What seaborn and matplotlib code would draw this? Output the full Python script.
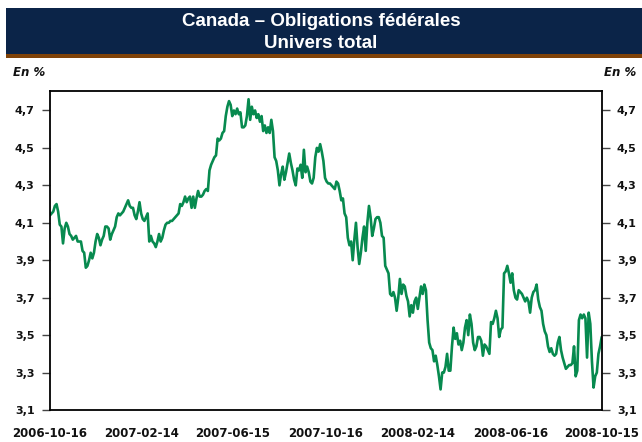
import numpy as np
import pandas as pd
import matplotlib
matplotlib.use("Agg")
import matplotlib.pyplot as plt
import seaborn as sns
from matplotlib.patches import Rectangle

# ---------------- data ----------------
title_lines = ["Canada – Obligations fédérales", "Univers total"]
unit_label = "En %"
start_date = "2006-10-16"
end_date = "2008-10-15"
tick_dates = ["2006-10-16", "2007-02-14", "2007-06-15", "2007-10-16",
              "2008-02-14", "2008-06-16", "2008-10-15"]
y_ticks = [3.1, 3.3, 3.5, 3.7, 3.9, 4.1, 4.3, 4.5, 4.7]

# yield values (left to right), in four stretches
seg_2006_2007 = [
    4.14, 4.15, 4.16, 4.19, 4.20, 4.16, 4.09, 4.08, 3.99, 4.07, 4.10, 4.08, 4.04, 4.03,
    4.01, 4.02, 4.03, 4.00, 4.00, 4.00, 3.95, 3.94, 3.86, 3.87, 3.90, 3.94, 3.91, 3.94,
    4.00, 4.04, 4.02, 3.98, 4.01, 4.03, 4.08, 4.08, 4.07, 4.01, 4.04, 4.06, 4.08, 4.13,
    4.15, 4.14, 4.15, 4.16, 4.18, 4.20, 4.22, 4.19, 4.18, 4.18, 4.14, 4.12, 4.16, 4.21,
    4.15, 4.12, 4.11, 4.13, 4.15, 4.00, 4.03, 4.00, 3.99, 3.97, 4.00, 4.04, 4.00, 4.02,
    4.06, 4.09, 4.10, 4.10, 4.11, 4.11, 4.12, 4.13, 4.14, 4.15, 4.20, 4.19, 4.21, 4.24,
    4.21, 4.23, 4.24, 4.18, 4.24, 4.18, 4.23, 4.27, 4.24, 4.24, 4.25, 4.27, 4.28,
]
seg_2007 = [
    4.27, 4.38, 4.41, 4.43, 4.45, 4.46, 4.55, 4.54, 4.55, 4.58, 4.59, 4.67, 4.72, 4.75,
    4.73, 4.67, 4.70, 4.68, 4.71, 4.68, 4.69, 4.61, 4.61, 4.62, 4.67, 4.76, 4.65, 4.72,
    4.68, 4.70, 4.66, 4.68, 4.64, 4.67, 4.59, 4.62, 4.58, 4.61, 4.58, 4.65, 4.59, 4.45,
    4.43, 4.38, 4.30, 4.36, 4.40, 4.33, 4.37, 4.42, 4.47, 4.42, 4.38, 4.33, 4.30, 4.39,
    4.38, 4.41, 4.34, 4.49, 4.37, 4.40, 4.37, 4.32, 4.31, 4.34, 4.45, 4.50, 4.48, 4.52,
    4.48, 4.43, 4.34,
]
seg_2007_2008 = [
    4.32, 4.31, 4.31, 4.30, 4.29, 4.28, 4.32, 4.31, 4.27, 4.22, 4.23, 4.15, 4.13, 4.02,
    3.98, 4.00, 3.90, 4.01, 4.10, 3.97, 3.88, 3.94, 4.02, 4.08, 3.95, 4.10, 4.19, 4.13,
    4.03, 4.07, 4.12, 4.13, 4.13, 4.10, 4.03, 4.02, 3.87, 3.85, 3.83, 3.72, 3.71, 3.73,
    3.70, 3.63, 3.70, 3.80, 3.72, 3.77, 3.76, 3.71, 3.68, 3.60, 3.66, 3.62, 3.68, 3.70,
    3.64, 3.70, 3.76, 3.72, 3.77, 3.74, 3.58, 3.46, 3.43, 3.42, 3.36, 3.39, 3.34, 3.28,
    3.21, 3.30, 3.30, 3.33, 3.40, 3.31, 3.31, 3.44, 3.54, 3.48, 3.51, 3.45, 3.47, 3.42,
    3.46, 3.54, 3.58, 3.50,
]
seg_2008 = [
    3.61, 3.56, 3.46, 3.42, 3.44, 3.49, 3.49, 3.47, 3.39, 3.45, 3.44, 3.42, 3.40, 3.57,
    3.56, 3.59, 3.63, 3.59, 3.49, 3.53, 3.54, 3.83, 3.84, 3.87, 3.83, 3.78, 3.83, 3.74,
    3.70, 3.69, 3.74, 3.73, 3.72, 3.70, 3.68, 3.70, 3.68, 3.62, 3.70, 3.73, 3.74, 3.77,
    3.69, 3.65, 3.63, 3.56, 3.52, 3.50, 3.44, 3.41, 3.43, 3.40, 3.39, 3.40, 3.46, 3.49,
    3.42, 3.38, 3.35, 3.32, 3.33, 3.34, 3.34, 3.35, 3.44, 3.28, 3.31, 3.58, 3.61, 3.59,
    3.61, 3.59, 3.38, 3.62, 3.56, 3.36, 3.22, 3.28, 3.30, 3.40, 3.44, 3.49,
]

values = seg_2006_2007 + seg_2007 + seg_2007_2008 + seg_2008
dates = pd.date_range(start_date, end_date, periods=len(values))
df = pd.DataFrame({"date": dates, "rate": values})

# ---------------- style ----------------
sns.set_theme(style="white")
plt.rcParams["font.family"] = ["DejaVu Sans"]
plt.rcParams["font.weight"] = "bold"

W, H = 642, 442
fig = plt.figure(figsize=(W / 100, H / 100), dpi=100)
fig.patch.set_facecolor("white")

ax_l, ax_r, ax_t, ax_b = 50, 601.7, 91, 410
ax = fig.add_axes([ax_l / W, 1 - ax_b / H, (ax_r - ax_l) / W, (ax_b - ax_t) / H])

sns.lineplot(data=df, x="date", y="rate", ax=ax, color="#078a4f", linewidth=1.9)

ax.set_xlim(pd.Timestamp(start_date), pd.Timestamp(end_date))
ax.set_ylim(3.1, 4.804)
ax.set_yticks(y_ticks)
ax.set_yticklabels([f"{v:.1f}".replace(".", ",") for v in y_ticks])
ax.set_xticks(pd.to_datetime(tick_dates))
ax.set_xticklabels(tick_dates)
ax.set_xlabel("")
ax.set_ylabel("")

ax.tick_params(axis="y", left=True, right=True, labelleft=True, labelright=True,
               direction="out", length=6, width=1, color="#444444", pad=5,
               labelsize=8, labelcolor="#111111")
ax.tick_params(axis="x", bottom=False, length=0, pad=12, labelsize=8.5,
               labelcolor="#111111")
for t in ax.yaxis.get_major_ticks():
    t.label1.set_fontweight("bold")
    t.label2.set_fontweight("bold")
for t in ax.get_xticklabels():
    t.set_fontweight("bold")

for s in ax.spines.values():
    s.set_visible(True)
    s.set_color("black")
    s.set_linewidth(1.3)
ax.grid(False)

# ---------------- banner ----------------
fig.patches.append(Rectangle((6 / W, 1 - 54 / H), 1 - 6 / W, 46 / H,
                             transform=fig.transFigure, facecolor="#0b2448",
                             edgecolor="none", zorder=0))
fig.patches.append(Rectangle((6 / W, 1 - 58 / H), 1 - 6 / W, 4 / H,
                             transform=fig.transFigure, facecolor="#7f4208",
                             edgecolor="none", zorder=0))
fig.text(0.5, 1 - 21 / H, title_lines[0], ha="center", va="center", color="white",
         fontsize=13.5, fontweight="bold", family=["Liberation Sans", "DejaVu Sans"])
fig.text(0.5, 1 - 44 / H, title_lines[1], ha="center", va="center", color="white",
         fontsize=13.5, fontweight="bold", family=["Liberation Sans", "DejaVu Sans"])

fig.text(13 / W, 1 - 72 / H, unit_label, ha="left", va="center", color="#111111",
         fontsize=8.5, fontweight="bold", fontstyle="italic")
fig.text(636 / W, 1 - 72 / H, unit_label, ha="right", va="center", color="#111111",
         fontsize=8.5, fontweight="bold", fontstyle="italic")

fig.savefig("out.png", dpi=100)
